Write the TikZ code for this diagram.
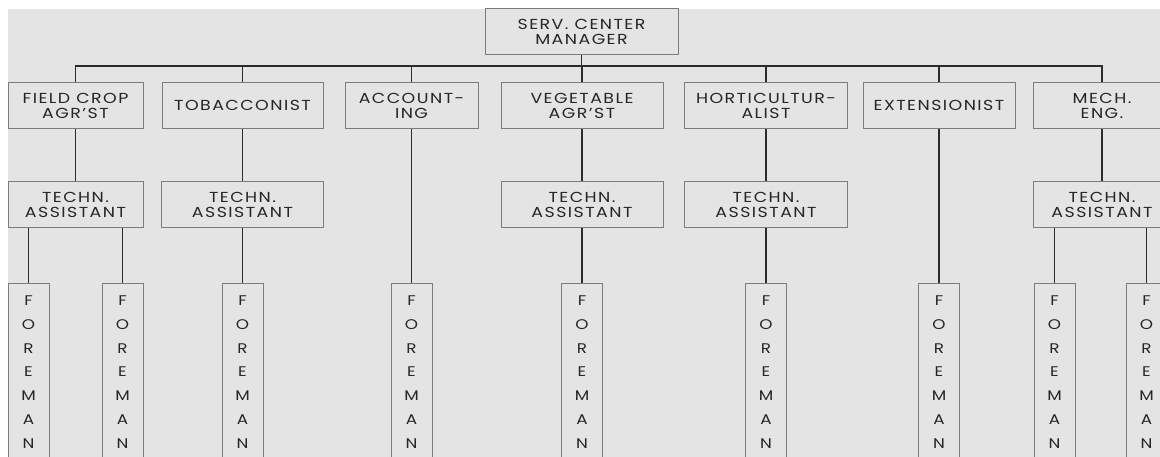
\documentclass[tikz,border=0pt]{standalone}
\usepackage{fontspec}
\setmainfont{Poppins}[LetterSpace=10,FakeStretch=1.2]
\usepackage{tikz}
\definecolor{panel}{HTML}{E4E4E4}
\definecolor{edge}{HTML}{7C7C7C}
\definecolor{wirec}{HTML}{2C2C2C}
\definecolor{ink}{HTML}{262626}
\tikzset{post/.style={draw=edge, fill=panel, line width=1pt, text=ink, align=center,
      font=\fontsize{14.5}{15}\selectfont, minimum height=46pt, inner sep=0pt}}
\tikzset{foreman/.style={post, minimum width=41pt, minimum height=177pt, anchor=north,
      font=\fontsize{14}{23.8}\selectfont}}
\tikzset{wire/.style={draw=wirec, line width=1.7pt}}

\begin{document}
\begin{tikzpicture}[x=1pt,y=-1pt]
    \useasboundingbox (0,0) rectangle (1160,457);
    \clip (0,0) rectangle (1160,457);
    \fill[panel] (8,9) rectangle (1160,457);
    \coordinate (bus) at (0,66);
    % manager
    \node[post, minimum width=193pt] (mgr) at (581.5,32) {SERV. CENTER\\MANAGER};
    % specialists
    \node[post, minimum width=135pt] (field) at (75.5,105.5) {FIELD CROP\\AGR'ST};
    \node[post, minimum width=161pt] (tobac) at (242.5,105.5) {TOBACCONIST};
    \node[post, minimum width=133pt] (acc) at (411.5,105.5) {ACCOUNT-\\ING};
    \node[post, minimum width=162pt] (veg) at (582,105.5) {VEGETABLE\\AGR'ST};
    \node[post, minimum width=163pt] (hort) at (766,105.5) {HORTICULTUR-\\ALIST};
    \node[post, minimum width=152pt] (ext) at (939,105.5) {EXTENSIONIST};
    \node[post, minimum width=138pt] (mech) at (1102,105.5) {MECH.\\ENG.};
    % assistants
    \node[post, minimum width=135pt] (taf) at (75.5,205) {TECHN.\\ASSISTANT};
    \node[post, minimum width=162pt] (tat) at (242.5,205) {TECHN.\\ASSISTANT};
    \node[post, minimum width=162pt] (tav) at (582,205) {TECHN.\\ASSISTANT};
    \node[post, minimum width=163pt] (tah) at (766,205) {TECHN.\\ASSISTANT};
    \node[post, minimum width=138pt] (tam) at (1102,205) {TECHN.\\ASSISTANT};
    % foremen
    \node[foreman] (fa) at (28.5,283) {F\\O\\R\\E\\M\\A\\N};
    \node[foreman] (fb) at (122.5,283) {F\\O\\R\\E\\M\\A\\N};
    \node[foreman] (fc) at (242.5,283) {F\\O\\R\\E\\M\\A\\N};
    \node[foreman] (fd) at (411.5,283) {F\\O\\R\\E\\M\\A\\N};
    \node[foreman] (fe) at (582,283) {F\\O\\R\\E\\M\\A\\N};
    \node[foreman] (ff) at (766,283) {F\\O\\R\\E\\M\\A\\N};
    \node[foreman] (fg) at (939,283) {F\\O\\R\\E\\M\\A\\N};
    \node[foreman] (fh) at (1054.5,283) {F\\O\\R\\E\\M\\A\\N};
    \node[foreman] (fi) at (1146.5,283) {F\\O\\R\\E\\M\\A\\N};
    % bus
    \draw[wire] (mgr.south) -- (mgr.south |- bus);
    \draw[wire] (field.north) |- (mech.north |- bus) -- (mech.north);
    \draw[wire] (tobac.north) -- (tobac.north |- bus);
    \draw[wire] (acc.north) -- (acc.north |- bus);
    \draw[wire] (veg.north) -- (veg.north |- bus);
    \draw[wire] (hort.north) -- (hort.north |- bus);
    \draw[wire] (ext.north) -- (ext.north |- bus);
    % down to assistants
    \draw[wire] (field.south) -- (taf.north);
    \draw[wire] (tobac.south) -- (tat.north);
    \draw[wire] (veg.south) -- (tav.north);
    \draw[wire] (hort.south) -- (tah.north);
    \draw[wire] (mech.south) -- (tam.north);
    % down to foremen
    \draw[wire] (fa.north) -- (fa.north |- taf.south);
    \draw[wire] (fb.north) -- (fb.north |- taf.south);
    \draw[wire] (fc.north) -- (fc.north |- tat.south);
    \draw[wire] (fd.north) -- (fd.north |- acc.south);
    \draw[wire] (fe.north) -- (fe.north |- tav.south);
    \draw[wire] (ff.north) -- (ff.north |- tah.south);
    \draw[wire] (fg.north) -- (fg.north |- ext.south);
    \draw[wire] (fh.north) -- (fh.north |- tam.south);
    \draw[wire] (fi.north) -- (fi.north |- tam.south);
\end{tikzpicture}
\end{document}
